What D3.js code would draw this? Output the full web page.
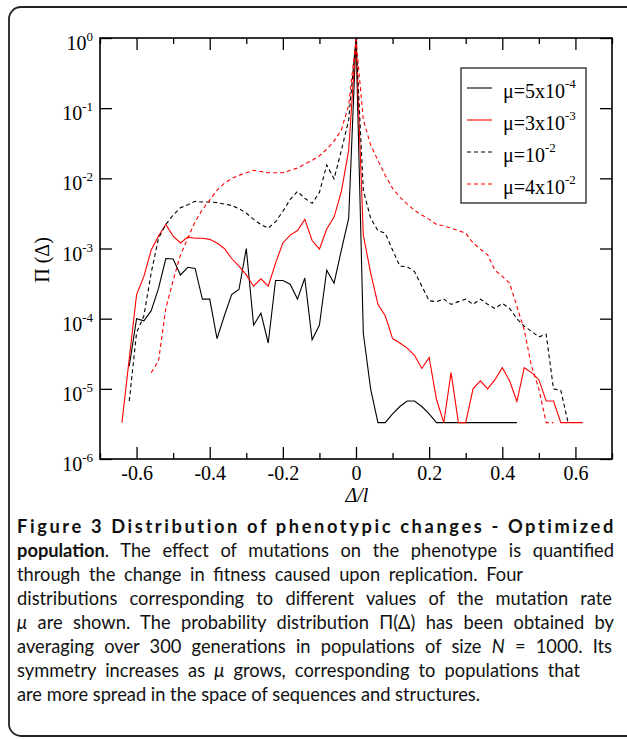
<!DOCTYPE html>
<html>
<head>
<meta charset="utf-8">
<script src="https://cdn.jsdelivr.net/npm/d3@7"></script>
<style>
  body { margin: 0; background: #fff; }
  svg text { font-family: "Liberation Serif", "DejaVu Serif", serif; }
  .caption text { font-family: "Lato", "Open Sans", sans-serif; font-size: 18px; fill: #111; }
</style>
</head>
<body>
<svg id="chart" width="627" height="739"></svg>
<script>
// ---- data ----
const mu1Delta = [-0.62,-0.60,-0.58,-0.56,-0.54,-0.52,-0.50,-0.48,-0.46,-0.44,-0.42,-0.40,-0.38,-0.36,-0.34,-0.32,-0.30,-0.28,-0.26,-0.24,-0.22,-0.20,-0.18,-0.16,-0.14,-0.12,-0.10,-0.08,-0.06,-0.04,-0.02,0,0.02,0.04,0.06,0.08,0.10,0.12,0.14,0.16,0.18,0.20,0.22,0.24,0.26,0.28,0.30,0.32,0.34,0.36,0.38,0.40,0.42,0.44];
const mu1Pi = [2.1e-5,1.0e-4,9.3e-5,1.3e-4,2.7e-4,7.2e-4,7.1e-4,4.2e-4,5.4e-4,5.2e-4,1.9e-4,1.9e-4,5.2e-5,1.1e-4,2.2e-4,2.6e-4,1.0e-3,8.1e-5,1.2e-4,4.5e-5,3.5e-4,3.5e-4,3.1e-4,1.9e-4,3.8e-4,5.0e-5,8.1e-5,4.9e-4,3.2e-4,9.5e-4,2.7e-3,0.98,6.2e-5,1.0e-5,3.3e-6,3.3e-6,4.4e-6,5.6e-6,6.7e-6,6.7e-6,5.6e-6,4.4e-6,3.3e-6,3.3e-6,3.3e-6,3.3e-6,3.3e-6,3.3e-6,3.3e-6,3.3e-6,3.3e-6,3.3e-6,3.3e-6,3.3e-6];

const mu2Delta = [-0.64,-0.60,-0.58,-0.56,-0.54,-0.52,-0.50,-0.48,-0.46,-0.44,-0.42,-0.40,-0.38,-0.36,-0.34,-0.32,-0.30,-0.28,-0.26,-0.24,-0.22,-0.20,-0.18,-0.16,-0.14,-0.12,-0.10,-0.08,-0.06,-0.04,-0.02,0,0.02,0.04,0.06,0.08,0.10,0.12,0.14,0.16,0.18,0.20,0.22,0.24,0.26,0.28,0.30,0.32,0.34,0.36,0.38,0.40,0.42,0.44,0.46,0.48,0.50,0.52,0.54,0.56,0.58,0.60,0.62];
const mu2Pi = [3.3e-6,2.2e-4,4.0e-4,9.5e-4,1.5e-3,2.2e-3,1.5e-3,1.2e-3,1.45e-3,1.4e-3,1.4e-3,1.35e-3,1.2e-3,1.0e-3,7.2e-4,5.6e-4,4.2e-4,2.9e-4,3.7e-4,2.9e-4,6.2e-4,1.2e-3,1.55e-3,1.8e-3,2.6e-3,1.3e-3,9.8e-4,1.9e-3,2.8e-3,6.5e-3,2.5e-2,0.96,1.55e-3,4.5e-4,1.6e-4,1.1e-4,5.2e-5,4.5e-5,3.8e-5,3.0e-5,1.95e-5,2.8e-5,7.1e-6,3.3e-6,1.7e-5,3.3e-6,3.3e-6,1.0e-5,1.3e-5,1.0e-5,1.35e-5,2.0e-5,1.3e-5,6.6e-6,2.0e-5,1.7e-5,1.35e-5,6.7e-6,6.7e-6,3.3e-6,3.3e-6,3.3e-6,3.3e-6];

const mu3Delta = [-0.62,-0.60,-0.58,-0.56,-0.54,-0.52,-0.50,-0.48,-0.46,-0.44,-0.42,-0.40,-0.38,-0.36,-0.34,-0.32,-0.30,-0.28,-0.26,-0.24,-0.22,-0.20,-0.18,-0.16,-0.14,-0.12,-0.10,-0.08,-0.06,-0.04,-0.02,0,0.02,0.04,0.06,0.08,0.10,0.12,0.14,0.16,0.18,0.20,0.22,0.24,0.26,0.28,0.30,0.32,0.34,0.36,0.38,0.40,0.42,0.44,0.46,0.48,0.50,0.52,0.54,0.56,0.58];
const mu3Pi = [6.7e-6,6.3e-5,1.1e-4,4.5e-4,1.4e-3,2.2e-3,3.0e-3,3.8e-3,4.2e-3,4.7e-3,4.6e-3,4.6e-3,4.5e-3,4.3e-3,4.1e-3,3.7e-3,3.2e-3,2.6e-3,2.2e-3,1.95e-3,2.4e-3,3.4e-3,5.0e-3,6.5e-3,5.2e-3,4.4e-3,6.3e-3,1.55e-2,9.8e-3,2.5e-2,6.8e-2,0.97,6.8e-3,2.7e-3,1.8e-3,1.65e-3,9.5e-4,5.6e-4,5.5e-4,4.7e-4,2.9e-4,1.8e-4,1.75e-4,1.9e-4,1.6e-4,1.75e-4,1.9e-4,1.6e-4,1.9e-4,1.6e-4,1.4e-4,1.65e-4,1.4e-4,1.0e-4,7.8e-5,6.6e-5,5.5e-5,6.0e-5,1.0e-5,9.5e-6,3.3e-6];

const mu4Delta = [-0.56,-0.54,-0.52,-0.50,-0.48,-0.46,-0.44,-0.42,-0.40,-0.38,-0.36,-0.34,-0.32,-0.30,-0.28,-0.26,-0.24,-0.22,-0.20,-0.18,-0.16,-0.14,-0.12,-0.10,-0.08,-0.06,-0.04,-0.02,0,0.02,0.04,0.06,0.08,0.10,0.12,0.14,0.16,0.18,0.20,0.22,0.24,0.26,0.28,0.30,0.32,0.34,0.36,0.38,0.40,0.42,0.44,0.46,0.48,0.50,0.52,0.54];
const mu4Pi = [1.7e-5,2.5e-5,1.4e-4,3.5e-4,8.1e-4,1.4e-3,2.4e-3,3.6e-3,4.9e-3,6.8e-3,8.5e-3,1.0e-2,1.1e-2,1.2e-2,1.3e-2,1.25e-2,1.2e-2,1.2e-2,1.2e-2,1.3e-2,1.4e-2,1.6e-2,1.8e-2,2.1e-2,2.6e-2,3.4e-2,4.9e-2,0.11,0.95,6.8e-2,3.0e-2,1.8e-2,1.1e-2,7.2e-3,5.4e-3,4.3e-3,3.5e-3,3.0e-3,2.6e-3,2.2e-3,2.1e-3,1.95e-3,1.8e-3,1.65e-3,1.2e-3,9.8e-4,8.1e-4,4.9e-4,4.0e-4,3.2e-4,1.5e-4,6.9e-5,2.1e-5,1.0e-5,3.3e-6,3.3e-6];

const xTickValues = [-0.6,-0.4,-0.2,0,0.2,0.4,0.6];
const xMinorValues = [-0.7,-0.5,-0.3,-0.1,0.1,0.3,0.5,0.7];
const yExponents = [0,-1,-2,-3,-4,-5,-6];

const legendBase = ["μ=5x10","μ=3x10","μ=10","μ=4x10"];
const legendExp = ["-4","-3","-2","-2"];

const captionLines = [
  [{t:"Figure 3 Distribution of phenotypic changes - Optimized", w:"bold"}],
  [{t:"population", w:"bold"},{t:". The effect of mutations on the phenotype is quantified"}],
  [{t:"through the change in fitness caused upon replication. Four"}],
  [{t:"distributions corresponding to different values of the mutation rate"}],
  [{t:"μ", i:true},{t:" are shown. The probability distribution Π(Δ) has been obtained by"}],
  [{t:"averaging over 300 generations in populations of size "},{t:"N", i:true},{t:" = 1000. Its"}],
  [{t:"symmetry increases as "},{t:"μ", i:true},{t:" grows, corresponding to populations that"}],
  [{t:"are more spread in the space of sequences and structures."}]
];
const captionWidths = [597, 597, 506, 595, 597, 595, 563, 434];

// ---- layout ----
const svg = d3.select("#chart");
const plot = { left: 100, right: 612, top: 38, bottom: 459 };

svg.append("rect")
   .attr("x", 9).attr("y", 7)
   .attr("width", 640).attr("height", 729)
   .attr("rx", 12)
   .attr("fill", "none")
   .attr("stroke", "#222")
   .attr("stroke-width", 1.8);

const x = d3.scaleLinear().domain([-0.7, 0.7]).range([plot.left, plot.right]);
const y = d3.scaleLog().domain([1e-6, 1]).range([plot.bottom, plot.top]);

// axes, ticks pointing inward
const styleAxis = g => {
  g.select(".domain").remove();
  g.selectAll(".tick line").attr("stroke", "#000").attr("stroke-width", 1.3);
};

svg.append("g")
   .attr("transform", `translate(0,${plot.bottom})`)
   .call(d3.axisBottom(x).tickValues(xTickValues).tickSize(-12).tickPadding(7)
           .tickFormat(d => d === 0 ? "0" : d3.format(".1f")(d).replace("−", "-")))
   .call(styleAxis)
   .call(g => g.selectAll("text").attr("font-size", 20).attr("fill", "#000")
                .attr("font-family", "Liberation Serif, serif"));
svg.append("g")
   .attr("transform", `translate(0,${plot.bottom})`)
   .call(d3.axisBottom(x).tickValues(xMinorValues).tickSize(-6).tickFormat(""))
   .call(styleAxis);
svg.append("g")
   .attr("transform", `translate(0,${plot.top})`)
   .call(d3.axisTop(x).tickValues(xTickValues).tickSize(-12).tickFormat(""))
   .call(styleAxis);
svg.append("g")
   .attr("transform", `translate(0,${plot.top})`)
   .call(d3.axisTop(x).tickValues(xMinorValues).tickSize(-6).tickFormat(""))
   .call(styleAxis);

const yTicks = yExponents.map(e => Math.pow(10, e));
svg.append("g")
   .attr("transform", `translate(${plot.left},0)`)
   .call(d3.axisLeft(y).tickValues(yTicks).tickSize(-12).tickFormat(""))
   .call(styleAxis);
svg.append("g")
   .attr("transform", `translate(${plot.right},0)`)
   .call(d3.axisRight(y).tickValues(yTicks).tickSize(-12).tickFormat(""))
   .call(styleAxis);

// y tick labels 10^n
const yLab = svg.append("g").selectAll("text")
   .data(yExponents)
   .join("text")
   .attr("x", 93)
   .attr("y", e => y(Math.pow(10, e)) + 12)
   .attr("text-anchor", "end")
   .attr("font-size", 20);
yLab.append("tspan").text("10");
yLab.append("tspan").attr("dy", -9).attr("font-size", 13).text(e => e === 0 ? "0" : "-" + Math.abs(e));

// frame
svg.append("rect")
   .attr("x", plot.left).attr("y", plot.top)
   .attr("width", plot.right - plot.left).attr("height", plot.bottom - plot.top)
   .attr("fill", "none").attr("stroke", "#000").attr("stroke-width", 1.6);

// axis titles
svg.append("text")
   .attr("transform", `translate(49,260) rotate(-90)`)
   .attr("text-anchor", "middle")
   .attr("font-size", 20)
   .text("Π (Δ)");
svg.append("text")
   .attr("x", 357).attr("y", 502)
   .attr("text-anchor", "middle")
   .attr("font-size", 20)
   .attr("font-style", "italic")
   .text("Δ/l");

// series
const series = [
  { d: mu1Delta, p: mu1Pi, color: "#000", dash: null },
  { d: mu2Delta, p: mu2Pi, color: "#ff0000", dash: null },
  { d: mu3Delta, p: mu3Pi, color: "#000", dash: "4,3" },
  { d: mu4Delta, p: mu4Pi, color: "#ff0000", dash: "4,3" }
];
const line = d3.line().x(d => x(d[0])).y(d => y(d[1]));

svg.append("g").selectAll("path")
   .data(series)
   .join("path")
   .attr("d", s => line(d3.zip(s.d, s.p)))
   .attr("fill", "none")
   .attr("stroke", s => s.color)
   .attr("stroke-width", 1.1)
   .attr("stroke-dasharray", s => s.dash);

// legend
const legend = svg.append("g");
legend.append("rect")
   .attr("x", 461).attr("y", 68).attr("width", 125).attr("height", 135)
   .attr("fill", "#fff").attr("stroke", "#333").attr("stroke-width", 1.4);
const rowY = i => 88 + i * 32;
legend.selectAll("line")
   .data(series)
   .join("line")
   .attr("x1", 467).attr("x2", 492)
   .attr("y1", (s, i) => rowY(i)).attr("y2", (s, i) => rowY(i))
   .attr("stroke", s => s.color)
   .attr("stroke-width", 1.1)
   .attr("stroke-dasharray", s => s.dash);
const lt = legend.selectAll("text")
   .data(legendBase)
   .join("text")
   .attr("x", 503)
   .attr("y", (s, i) => rowY(i) + 10)
   .attr("font-size", 20);
lt.append("tspan").text(d => d);
lt.append("tspan").attr("dy", -10).attr("font-size", 13).text((d, i) => legendExp[i]);

// caption: one font size, word gaps widened (never narrowed) toward the reference width
const capSize = 18.3;
const cap = svg.append("g").attr("class", "caption");
captionLines.forEach((parts, i) => {
  const t = cap.append("text")
     .attr("x", 17)
     .attr("y", 533 + i * 24)
     .style("font-size", capSize + "px");
  parts.forEach(p => {
    t.append("tspan")
     .attr("font-weight", p.w || null)
     .attr("font-style", p.i ? "italic" : null)
     .text(p.t);
  });
  const target = captionWidths[i];
  const w = t.node().getComputedTextLength();
  const str = parts.map(p => p.t).join("");
  if (parts[0].w === "bold" && parts.length === 1) {
    t.attr("letter-spacing", Math.max(0, (target - w) / (str.length - 1)));
  } else {
    t.attr("word-spacing", Math.max(0, (target - w) / (str.split(" ").length - 1)));
  }
});
</script>
</body>
</html>
